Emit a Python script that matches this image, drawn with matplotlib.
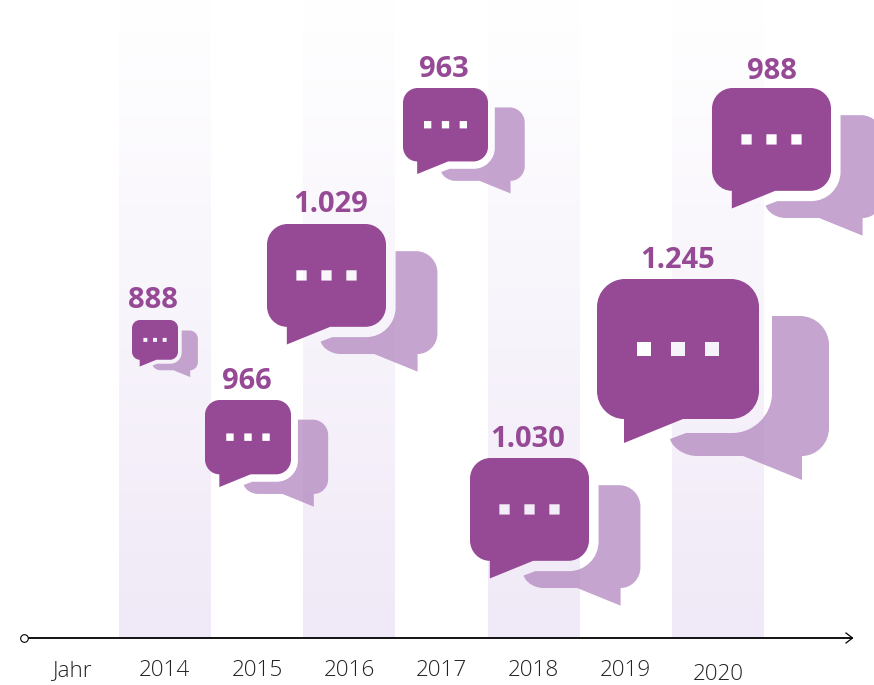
import numpy as np
import matplotlib.pyplot as plt
from matplotlib.path import Path
from matplotlib.patches import PathPatch

# Data
years = [2014, 2015, 2016, 2017, 2018, 2019, 2020]
values = [888, 966, 1029, 963, 1030, 1245, 988]
value_labels = ["888", "966", "1.029", "963", "1.030", "1.245", "988"]

# Layout in pixels
icon_left = [132, 205, 267, 403, 470, 597, 712]
icon_top = [320, 400, 224, 88, 458, 279, 88]
icon_width = [46, 86, 119, 85, 119, 162, 119]
label_x = [153, 246.5, 331, 443.5, 527.5, 677.5, 771.5]
label_y = [300, 381, 204, 69, 439, 260, 71]
tick_x = [164.5, 257, 349, 441, 533.5, 625.5, 718.5]
tick_y = [671, 671, 671, 671, 671, 671, 675]
band_left = [119, 303, 488, 672]
band_width = 92

FRONT = "#964a96"
BACK = "#b287bf"
K = 0.45  # bezier handle for round corners


def corner(p0, p1, p2):
    # rounded corner from p0 to p2, p1 is the sharp corner
    p0, p1, p2 = np.array(p0, float), np.array(p1, float), np.array(p2, float)
    return [p0 + (p1 - p0) * (1 - K), p2 + (p1 - p2) * (1 - K), p2]


def build(parts):
    verts, codes = [], []
    for i, part in enumerate(parts):
        if len(part) == 3 and isinstance(part, list):
            verts += part
            codes += [Path.CURVE4] * 3
        else:
            verts.append(part)
            codes.append(Path.MOVETO if i == 0 else Path.LINETO)
    verts.append(verts[0])
    codes.append(Path.CLOSEPOLY)
    return np.array(verts, float), codes


def front_path():
    v, c = build([
        (28, 0), (134, 0), corner((134, 0), (162, 0), (162, 28)),
        (162, 112), corner((162, 112), (162, 140), (134, 140)),
        (86, 140), (27, 164), (27, 140),
        corner((27, 140), (0, 140), (0, 112)),
        (0, 28), corner((0, 28), (0, 0), (28, 0)),
    ])
    # the three dots are holes, the background shows through
    for dx in [40, 74, 108]:
        dv, dc = build([(dx, 63), (dx, 77), (dx + 14, 77), (dx + 14, 63)])
        v = np.vstack([v, dv])
        c = c + dc
    return v, c


def back_path():
    return build([
        (175, 37), (203, 37), corner((203, 37), (232, 37), (232, 66)),
        (232, 149), corner((232, 149), (232, 177), (205, 177)),
        (205, 201), (146, 177), (100, 177),
        corner((100, 177), (78, 177), (73, 160)),
        (89, 154), (135, 154), corner((135, 154), (175, 154), (175, 114)),
    ])


plt.rcParams['font.family'] = ['Open Sans', 'DejaVu Sans']

fig = plt.figure(figsize=(8.74, 6.85), dpi=100)
ax = fig.add_axes([0, 0, 1, 1])
ax.set_xlim(0, 874)
ax.set_ylim(685, 0)
ax.axis('off')

# Bands with vertical fade
fade = np.linspace(0, 1, 256).reshape(-1, 1)
top = np.array([1.0, 1.0, 1.0])
bottom = np.array([240, 233, 247]) / 255
grad = (top + (bottom - top) * fade[..., None])
for left in band_left:
    ax.imshow(grad, extent=(left, left + band_width, 638, 0), aspect='auto', zorder=1)
ax.set_xlim(0, 874)
ax.set_ylim(685, 0)

# Icons
fv, fc = front_path()
bv, bc = back_path()
for left, top_px, w, lx, ly, lab in zip(icon_left, icon_top, icon_width, label_x, label_y, value_labels):
    s = w / 162
    back = Path(bv * s + [left, top_px], bc)
    ax.add_patch(PathPatch(back, facecolor=BACK, edgecolor='none', alpha=0.75, zorder=2))
    front = Path(fv * s + [left, top_px], fc)
    ax.add_patch(PathPatch(front, facecolor=FRONT, edgecolor='none', zorder=3))
    ax.text(lx, ly, lab, color=FRONT, fontsize=21, fontweight='bold', ha='center', va='center', zorder=4)

# Axis
ax.plot([27, 852], [638, 638], color='black', lw=1.3, zorder=5)
ax.plot([23.5], [638], marker='o', ms=5.5, mfc='white', mec='black', mew=0.8, zorder=5)
ax.plot([846, 852.5, 846], [633, 638, 643], color='black', lw=0.9, zorder=5)

# Tick labels
ax.text(72, 671, "Jahr", fontsize=16.2, color='#222222', ha='center', va='center', fontweight='light')
for x, y, yr in zip(tick_x, tick_y, years):
    ax.text(x, y, str(yr), fontsize=16.2, color='#222222', ha='center', va='center', fontweight='light')

fig.savefig("out.png", dpi=100)
